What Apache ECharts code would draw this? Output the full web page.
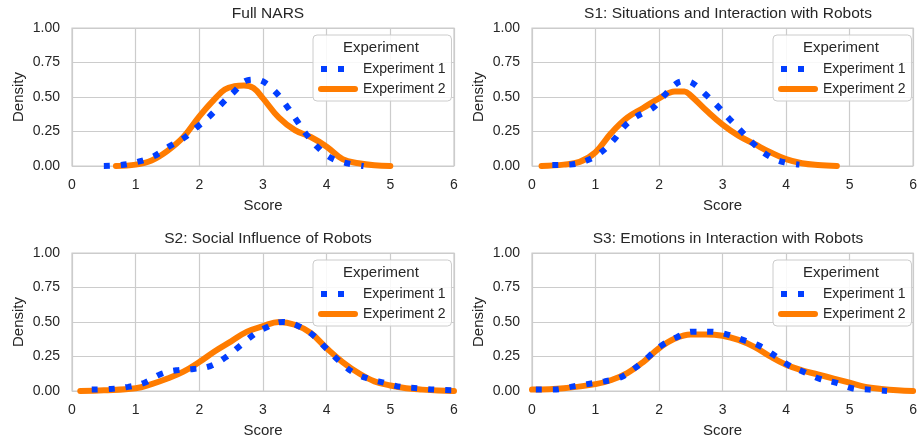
<!DOCTYPE html>
<html>
<head>
<meta charset="utf-8">
<script src="https://cdn.jsdelivr.net/npm/echarts@6/dist/echarts.min.js"></script>
<style>
  html, body { margin: 0; padding: 0; background: #fff; }
  #main { width: 920px; height: 443px; }
</style>
</head>
<body>
<div id="main"></div>
<script>
// panel titles
const titles = ['Full NARS', 'S1: Situations and Interaction with Robots', 'S2: Social Influence of Robots', 'S3: Emotions in Interaction with Robots']
const xTicks = [0, 1, 2, 3, 4, 5, 6]
const yTicks = [0, 0.25, 0.5, 0.75, 1]

// Full NARS
const fullX1 = [0.50, 0.77, 1.03, 1.28, 1.52, 1.75, 1.96, 2.16, 2.35, 2.55, 2.75, 2.88, 3.01, 3.21, 3.38, 3.53, 3.68, 3.85, 4.06, 4.32, 4.58]
const fullY1 = [0.00, 0.007, 0.03, 0.07, 0.14, 0.20, 0.28, 0.36, 0.45, 0.54, 0.62, 0.625, 0.61, 0.53, 0.43, 0.33, 0.23, 0.14, 0.06, 0.02, 0.00]
const fullX2 = [0.69, 1.0, 1.25, 1.5, 1.75, 2.0, 2.25, 2.4, 2.55, 2.7, 2.85, 3.0, 3.25, 3.5, 3.75, 4.0, 4.25, 4.5, 4.75, 5.0]
const fullY2 = [0.00, 0.01, 0.04, 0.11, 0.21, 0.36, 0.49, 0.555, 0.578, 0.583, 0.565, 0.49, 0.35, 0.26, 0.21, 0.14, 0.05, 0.02, 0.005, 0.00]

// S1
const s1X1 = [0.32, 0.60, 0.86, 1.09, 1.29, 1.46, 1.65, 1.90, 2.08, 2.28, 2.40, 2.53, 2.73, 2.93, 3.11, 3.30, 3.49, 3.70, 3.94, 4.21]
const s1Y1 = [0.007, 0.01, 0.04, 0.10, 0.19, 0.29, 0.36, 0.42, 0.51, 0.60, 0.615, 0.60, 0.52, 0.43, 0.34, 0.25, 0.16, 0.08, 0.03, 0.01]
const s1X2 = [0.15, 0.5, 0.75, 1.0, 1.25, 1.5, 1.75, 2.0, 2.25, 2.4, 2.5, 2.75, 3.0, 3.25, 3.5, 3.75, 4.0, 4.25, 4.5, 4.8]
const s1Y2 = [0.00, 0.01, 0.03, 0.10, 0.24, 0.35, 0.42, 0.49, 0.54, 0.54, 0.51, 0.40, 0.30, 0.22, 0.16, 0.10, 0.05, 0.02, 0.007, 0.00]

// S2
const s2X1 = [0.31, 0.61, 0.88, 1.14, 1.38, 1.64, 1.91, 2.17, 2.40, 2.62, 2.83, 3.05, 3.31, 3.56, 3.80, 3.99, 4.19, 4.40, 4.65, 4.90, 5.16, 5.43, 5.70, 5.96]
const s2Y1 = [0.01, 0.015, 0.03, 0.06, 0.12, 0.15, 0.16, 0.18, 0.24, 0.32, 0.40, 0.46, 0.50, 0.47, 0.40, 0.31, 0.22, 0.14, 0.09, 0.06, 0.03, 0.02, 0.01, 0.005]
const s2X2 = [0.13, 0.5, 1.0, 1.25, 1.5, 1.75, 2.0, 2.25, 2.5, 2.75, 3.0, 3.25, 3.5, 3.75, 4.0, 4.25, 4.5, 4.75, 5.0, 5.25, 5.5, 5.75, 6.0]
const s2Y2 = [0.00, 0.005, 0.02, 0.05, 0.09, 0.14, 0.21, 0.29, 0.36, 0.43, 0.47, 0.50, 0.48, 0.42, 0.31, 0.21, 0.13, 0.07, 0.04, 0.02, 0.01, 0.003, 0.00]

// S3
const s3X1 = [0.06, 0.34, 0.61, 0.87, 1.14, 1.40, 1.63, 1.84, 2.04, 2.28, 2.53, 2.80, 3.07, 3.32, 3.57, 3.81, 4.03, 4.27, 4.52, 4.78, 5.04, 5.31, 5.59]
const s3Y1 = [0.01, 0.01, 0.03, 0.05, 0.07, 0.10, 0.17, 0.25, 0.33, 0.39, 0.43, 0.43, 0.41, 0.37, 0.33, 0.26, 0.19, 0.14, 0.09, 0.06, 0.02, 0.01, 0.00]
const s3X2 = [0.0, 0.5, 1.0, 1.25, 1.5, 1.75, 2.0, 2.25, 2.5, 2.75, 3.0, 3.25, 3.5, 3.75, 4.0, 4.25, 4.5, 4.75, 5.0, 5.25, 5.5, 5.75, 6.0]
const s3Y2 = [0.01, 0.02, 0.05, 0.08, 0.13, 0.21, 0.31, 0.38, 0.41, 0.41, 0.40, 0.37, 0.32, 0.25, 0.19, 0.15, 0.12, 0.09, 0.06, 0.03, 0.015, 0.005, 0.00]

const exp1X = [fullX1, s1X1, s2X1, s3X1]
const exp1Y = [fullY1, s1Y1, s2Y1, s3Y1]
const exp2X = [fullX2, s1X2, s2X2, s3X2]
const exp2Y = [fullY2, s1Y2, s2Y2, s3Y2]

const BLUE = '#023eff'
const ORANGE = '#ff7c00'
const TEXT = '#262626'
const GRID = '#cccccc'
const FONT = '"Liberation Sans", Arial, sans-serif'

// panel placement: [left, top]
const panels = [[72, 28], [532, 28], [72, 253], [532, 253]]
const PW = 382
const PH = 138

const pairs = (xs, ys) => xs.map((x, i) => [x, ys[i]])

const grid = []
const xAxis = []
const yAxis = []
const series = []
const title = []
const legend = []
const graphic = []

panels.forEach((p, i) => {
  grid.push({ left: p[0], top: p[1], width: PW, height: PH, show: true, borderColor: GRID, borderWidth: 1.2, backgroundColor: '#fff' })
  title.push({
    text: titles[i],
    left: p[0] + PW / 2,
    top: p[1] - 27,
    textAlign: 'center',
    textStyle: { fontFamily: FONT, fontSize: 15.5, fontWeight: 'normal', color: TEXT }
  })
  xAxis.push({
    type: 'value', gridIndex: i, min: xTicks[0], max: xTicks[xTicks.length - 1], interval: 1,
    name: 'Score', nameLocation: 'middle', nameGap: 32,
    nameTextStyle: { fontFamily: FONT, fontSize: 15, color: TEXT },
    axisLine: { show: false }, axisTick: { show: false },
    axisLabel: { margin: 12, fontFamily: FONT, fontSize: 14, color: TEXT },
    splitLine: { show: true, lineStyle: { color: GRID, width: 1.2 } }
  })
  yAxis.push({
    type: 'value', gridIndex: i, min: yTicks[0], max: yTicks[yTicks.length - 1], interval: 0.25,
    name: 'Density', nameLocation: 'middle', nameGap: 46,
    nameTextStyle: { fontFamily: FONT, fontSize: 15, color: TEXT },
    axisLine: { show: false }, axisTick: { show: false },
    axisLabel: { margin: 12, fontFamily: FONT, fontSize: 14, color: TEXT, formatter: v => v.toFixed(2) },
    splitLine: { show: true, lineStyle: { color: GRID, width: 1.2 } }
  })
  series.push({
    name: 'Experiment 2', type: 'line', xAxisIndex: i, yAxisIndex: i,
    data: pairs(exp2X[i], exp2Y[i]), smooth: 0.4, symbol: 'none', z: 3,
    lineStyle: { color: ORANGE, width: 6, cap: 'round' }, itemStyle: { color: ORANGE }
  })
  series.push({
    name: 'Experiment 1', type: 'line', xAxisIndex: i, yAxisIndex: i,
    data: pairs(exp1X[i], exp1Y[i]), smooth: 0.4, symbol: 'none', z: 4,
    lineStyle: { color: BLUE, width: 6, type: [6, 11], cap: 'butt' }, itemStyle: { color: BLUE }
  })
  const lx = p[0] + PW - 141
  const ly = p[1] + 7
  legend.push({
    left: lx, top: ly, orient: 'vertical',
    padding: [27, 6, 5, 5],
    itemWidth: 34, itemHeight: 16, itemGap: 6,
    backgroundColor: 'rgba(255,255,255,0.85)', borderColor: GRID, borderWidth: 1, borderRadius: 4,
    textStyle: { fontFamily: FONT, fontSize: 14, color: TEXT, padding: [0, 0, 0, 3] },
    data: [
      { name: 'Experiment 1', itemStyle: { color: 'transparent', borderWidth: 0 }, lineStyle: { color: BLUE, width: 6, type: [6, 11], cap: 'butt' } },
      { name: 'Experiment 2', itemStyle: { color: 'transparent', borderWidth: 0 }, lineStyle: { color: ORANGE, width: 6, cap: 'round' } }
    ]
  })
  graphic.push({
    type: 'text', left: lx + 30, top: ly + 5, z: 100,
    style: { text: 'Experiment', fontFamily: FONT, fontSize: 15, fill: TEXT }
  })
})

const chart = echarts.init(document.getElementById('main'))
chart.setOption({
  animation: false,
  backgroundColor: '#fff',
  title: title,
  grid: grid,
  xAxis: xAxis,
  yAxis: yAxis,
  legend: legend,
  series: series,
  graphic: graphic
})
</script>
</body>
</html>
